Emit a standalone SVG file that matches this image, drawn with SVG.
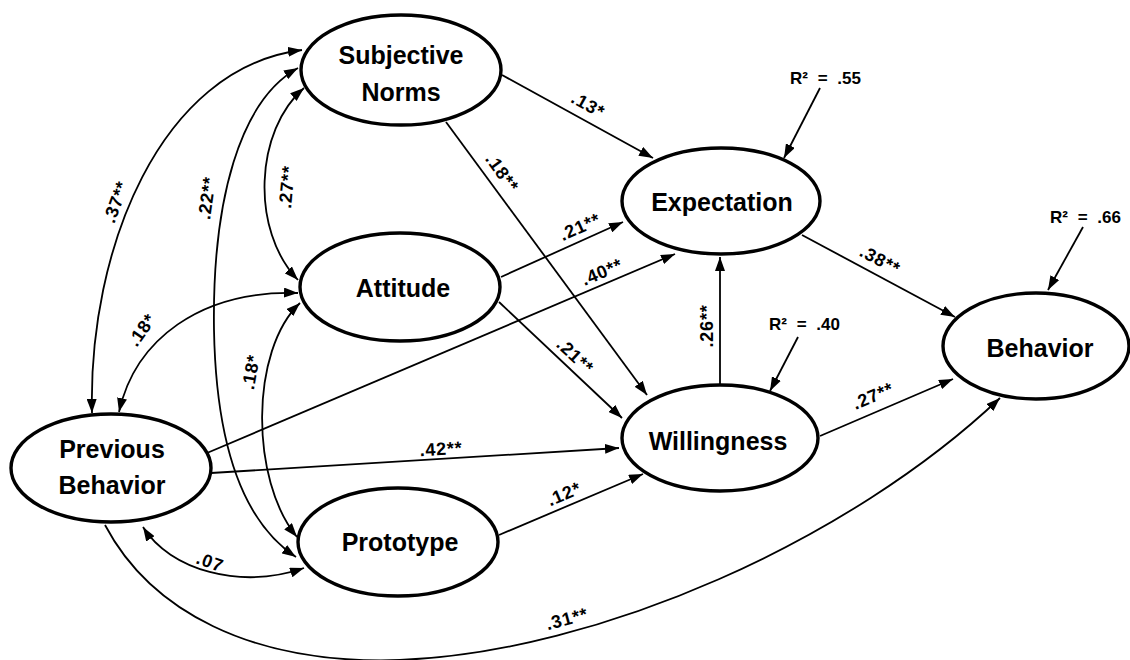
<svg xmlns="http://www.w3.org/2000/svg" width="1130" height="660" viewBox="0 0 1130 660">
<defs>
<marker id="ah" viewBox="0 0 14 10" refX="14" refY="5" markerWidth="14" markerHeight="10" markerUnits="userSpaceOnUse" orient="auto-start-reverse">
<path d="M0,0 L14,5 L0,10 z" fill="#000"/>
</marker>
<style>
.node ellipse{fill:#fff;stroke:#000;stroke-width:3.4}
.node text{font-family:"Liberation Sans",Arial,sans-serif;font-weight:bold;font-size:25px;text-anchor:middle;fill:#000}
.c{fill:none;stroke:#000;stroke-width:1.8}
.one{marker-end:url(#ah)}
.two{marker-start:url(#ah);marker-end:url(#ah)}
.lbl{font-family:"Liberation Sans",Arial,sans-serif;font-weight:bold;font-size:18px;letter-spacing:0.8px;text-anchor:middle;dominant-baseline:central;fill:#000}
.r2{font-family:"Liberation Sans",Arial,sans-serif;font-weight:bold;font-size:17px;word-spacing:5px;fill:#000}
</style>
</defs>
<rect width="1130" height="660" fill="#fff"/>
<g id="connectors">
<path class="c one" d="M502,75 L653,158"/>
<path class="c one" d="M446,122 L647,395"/>
<path class="c one" d="M501,277 L623,222"/>
<path class="c one" d="M207,453 L675,254"/>
<path class="c one" d="M499,302 L622,418"/>
<path class="c one" d="M211,473 L619,448"/>
<path class="c one" d="M499,535 L643,474"/>
<path class="c one" d="M802,235 L955,317"/>
<path class="c one" d="M820,436 L953,379"/>
<path class="c one" d="M720,385 L720,257"/>
<path class="c one" d="M820,88 L784,158"/>
<path class="c one" d="M798,337 L770,391"/>
<path class="c one" d="M1083,227 L1048,290"/>
<path class="c two" d="M92,413 C88,250 160,68 302,50"/>
<path class="c two" d="M298,68 C240,100 212,200 214,330 C216,440 240,520 296,557"/>
<path class="c two" d="M304,88 C255,130 250,230 298,280"/>
<path class="c two" d="M119,412 C135,340 200,290 298,293"/>
<path class="c two" d="M300,303 C250,350 250,480 297,537"/>
<path class="c two" d="M143,527 C170,570 240,590 304,568"/>
<path class="c one" d="M105,525 C150,610 250,665 400,660 C600,652 850,540 1000,398"/>
<text class="lbl" transform="translate(588,105) rotate(29)">.13*</text>
<text class="lbl" transform="translate(502,173) rotate(54)">.18**</text>
<text class="lbl" transform="translate(580,227) rotate(-24)">.21**</text>
<text class="lbl" transform="translate(602,272) rotate(-23)">.40**</text>
<text class="lbl" transform="translate(575,356) rotate(43)">.21**</text>
<text class="lbl" transform="translate(441,449) rotate(-3.5)">.42**</text>
<text class="lbl" transform="translate(564,494) rotate(-23)">.12*</text>
<text class="lbl" transform="translate(880,260) rotate(28)">.38**</text>
<text class="lbl" transform="translate(873,396) rotate(-23)">.27**</text>
<text class="lbl" transform="translate(707,326) rotate(-90)">.26**</text>
<text class="lbl" transform="translate(567,619) rotate(-15)">.31**</text>
<text class="lbl" transform="translate(210,562) rotate(20)">.07</text>
<text class="lbl" transform="translate(116,202) rotate(-70)">.37**</text>
<text class="lbl" transform="translate(207,198) rotate(-82)">.22**</text>
<text class="lbl" transform="translate(287,187) rotate(-85)">.27**</text>
<text class="lbl" transform="translate(142,330) rotate(-55)">.18*</text>
<text class="lbl" transform="translate(251,372) rotate(-80)">.18*</text>
<text class="r2" x="790" y="84">R² = .55</text>
<text class="r2" x="769" y="330">R² = .40</text>
<text class="r2" x="1050" y="223">R² = .66</text>
</g>
<g id="subjective-norms" class="node"><ellipse cx="401" cy="70" rx="100" ry="55"/><text x="401" y="64">Subjective</text><text x="401" y="101">Norms</text></g>
<g id="attitude" class="node"><ellipse cx="400" cy="287" rx="100" ry="54"/><text x="403" y="297">Attitude</text></g>
<g id="expectation" class="node"><ellipse cx="721" cy="201" rx="99" ry="53"/><text x="722" y="211">Expectation</text></g>
<g id="behavior" class="node"><ellipse cx="1036" cy="346" rx="93" ry="53"/><text x="1040" y="357">Behavior</text></g>
<g id="willingness" class="node"><ellipse cx="720" cy="438" rx="98" ry="53"/><text x="718" y="450">Willingness</text></g>
<g id="previous-behavior" class="node"><ellipse cx="111" cy="468" rx="100" ry="54"/><text x="112" y="458">Previous</text><text x="112" y="494">Behavior</text></g>
<g id="prototype" class="node"><ellipse cx="398" cy="542" rx="100" ry="54"/><text x="400" y="551">Prototype</text></g>
</svg>
